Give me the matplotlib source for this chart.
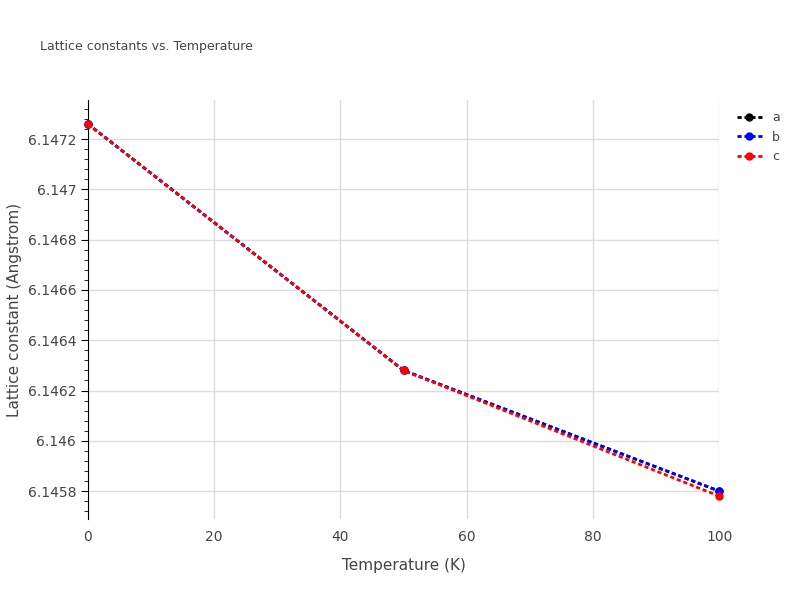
import matplotlib.pyplot as plt
from matplotlib.ticker import MultipleLocator, FuncFormatter

# data
temps = [0, 50, 100]
a_vals = [6.14726, 6.14628, 6.14580]
b_vals = [6.14726, 6.14628, 6.14580]
c_vals = [6.14726, 6.14628, 6.14578]

fig = plt.figure(figsize=(8, 6), dpi=100)
ax = fig.add_axes([0.11, 0.135, 0.789, 0.698])

for vals, col, name in [(a_vals, 'black', 'a'), (b_vals, 'blue', 'b'), (c_vals, 'red', 'c')]:
    ax.plot(temps, vals, color=col, linestyle=(0, (1.5, 1)), linewidth=2,
            marker='o', markersize=5, label=name, clip_on=False, zorder=3)

ax.set_xlim(0, 100)
ax.set_ylim(6.145689, 6.147355)
ax.xaxis.set_major_locator(MultipleLocator(20))
ax.xaxis.set_minor_locator(MultipleLocator(5))
ax.yaxis.set_major_locator(MultipleLocator(0.0002))
ax.yaxis.set_minor_locator(MultipleLocator(0.00004))

def fmt(v, pos):
    s = f"{v:.4f}".rstrip('0').rstrip('.')
    return s
ax.yaxis.set_major_formatter(FuncFormatter(fmt))

ax.grid(True, which='major', color='#dddddd', linewidth=1)
ax.set_axisbelow(True)
for s in ['top', 'right', 'bottom']:
    ax.spines[s].set_visible(False)
ax.spines['left'].set_color('black')
ax.tick_params(axis='both', colors='#444444', labelsize=10)
ax.tick_params(axis='y', which='both', color='black', direction='out')
ax.tick_params(axis='y', which='major', length=5)
ax.tick_params(axis='y', which='minor', length=3)
ax.tick_params(axis='x', which='both', length=0, pad=8)

ax.set_xlabel('Temperature (K)', color='#444444', fontsize=11, labelpad=10)
ax.set_ylabel('Lattice constant (Angstrom)', color='#444444', fontsize=11)
fig.text(0.05, 0.917, 'Lattice constants vs. Temperature', color='#444444', fontsize=9)

ax.legend(loc='upper left', bbox_to_anchor=(1.01, 1.0), frameon=False,
          fontsize=9, handlelength=2, labelcolor='#444444')

fig.savefig('out.png')
